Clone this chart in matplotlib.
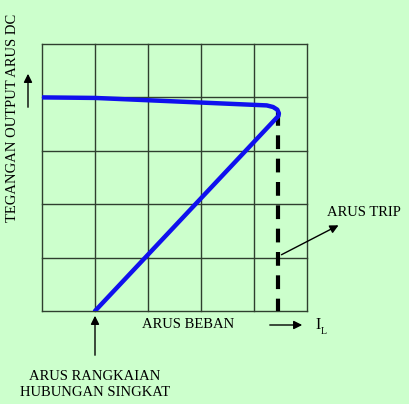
import matplotlib
matplotlib.use('Agg')
import matplotlib.pyplot as plt
from matplotlib.patches import FancyArrowPatch

# characteristic curve (grid units, 5 x 5 cells)
curve_x = [0.0, 1.0, 4.24, 4.36, 4.44, 4.47, 4.46, 4.42, 1.0]
curve_y = [4.0, 3.99, 3.85, 3.82, 3.77, 3.70, 3.65, 3.61, 0.0]
trip_x = 4.45
trip_top = 3.72

bg = '#ccffcc'
plt.rcParams['font.family'] = ['Liberation Serif', 'DejaVu Serif']

fig = plt.figure(figsize=(4.1, 4.04), dpi=100, facecolor=bg)
ax = fig.add_axes([42/410, 1-311/404, 265/410, 267/404])
ax.set_facecolor(bg)
ax.set_xlim(0, 5)
ax.set_ylim(0, 5)

for i in range(6):
    ax.axvline(i, color='#2f3f2f', lw=1.0, zorder=1, clip_on=False)
    ax.axhline(i, color='#2f3f2f', lw=1.0, zorder=1, clip_on=False)
for s in ax.spines.values():
    s.set_visible(False)
ax.set_xticks([])
ax.set_yticks([])

ax.plot([trip_x, trip_x], [trip_top, 0], color='black', lw=3,
        dashes=(3.3, 2.3), zorder=2, solid_capstyle='butt')
ax.plot(curve_x, curve_y, color='#1010ee', lw=3.2, zorder=3,
        solid_joinstyle='round', solid_capstyle='round')


def arrow(x0, y0, x1, y1):
    # pixel coordinates measured from top-left
    fig.add_artist(FancyArrowPatch(
        (x0/410, 1-y0/404), (x1/410, 1-y1/404), transform=fig.transFigure,
        arrowstyle='-|>,head_length=5,head_width=2.5', color='black', lw=1))


fs = 10.5
# y label + arrow
fig.text(13/410, 1-118/404, 'TEGANGAN OUTPUT ARUS DC', rotation=90,
         ha='center', va='center', fontsize=fs)
arrow(28, 110, 28, 71)

# x label + arrow
fig.text(188/410, 1-325/404, 'ARUS BEBAN', ha='center', va='center', fontsize=fs)
arrow(267, 325, 305, 325)
fig.text(315/410, 1-325/404, 'I', ha='left', va='center', fontsize=fs + 1)
fig.text(321/410, 1-331/404, 'L', ha='left', va='center', fontsize=7)

# short circuit annotation
arrow(95, 358, 95, 313)
fig.text(95/410, 1-376/404, 'ARUS RANGKAIAN', ha='center', va='center', fontsize=fs)
fig.text(95/410, 1-393/404, 'HUBUNGAN SINGKAT', ha='center', va='center', fontsize=fs)

# trip annotation
arrow(279, 256, 341, 224)
fig.text(364/410, 1-212/404, 'ARUS TRIP', ha='center', va='center', fontsize=fs)

fig.savefig('out.png', dpi=100, facecolor=bg)
